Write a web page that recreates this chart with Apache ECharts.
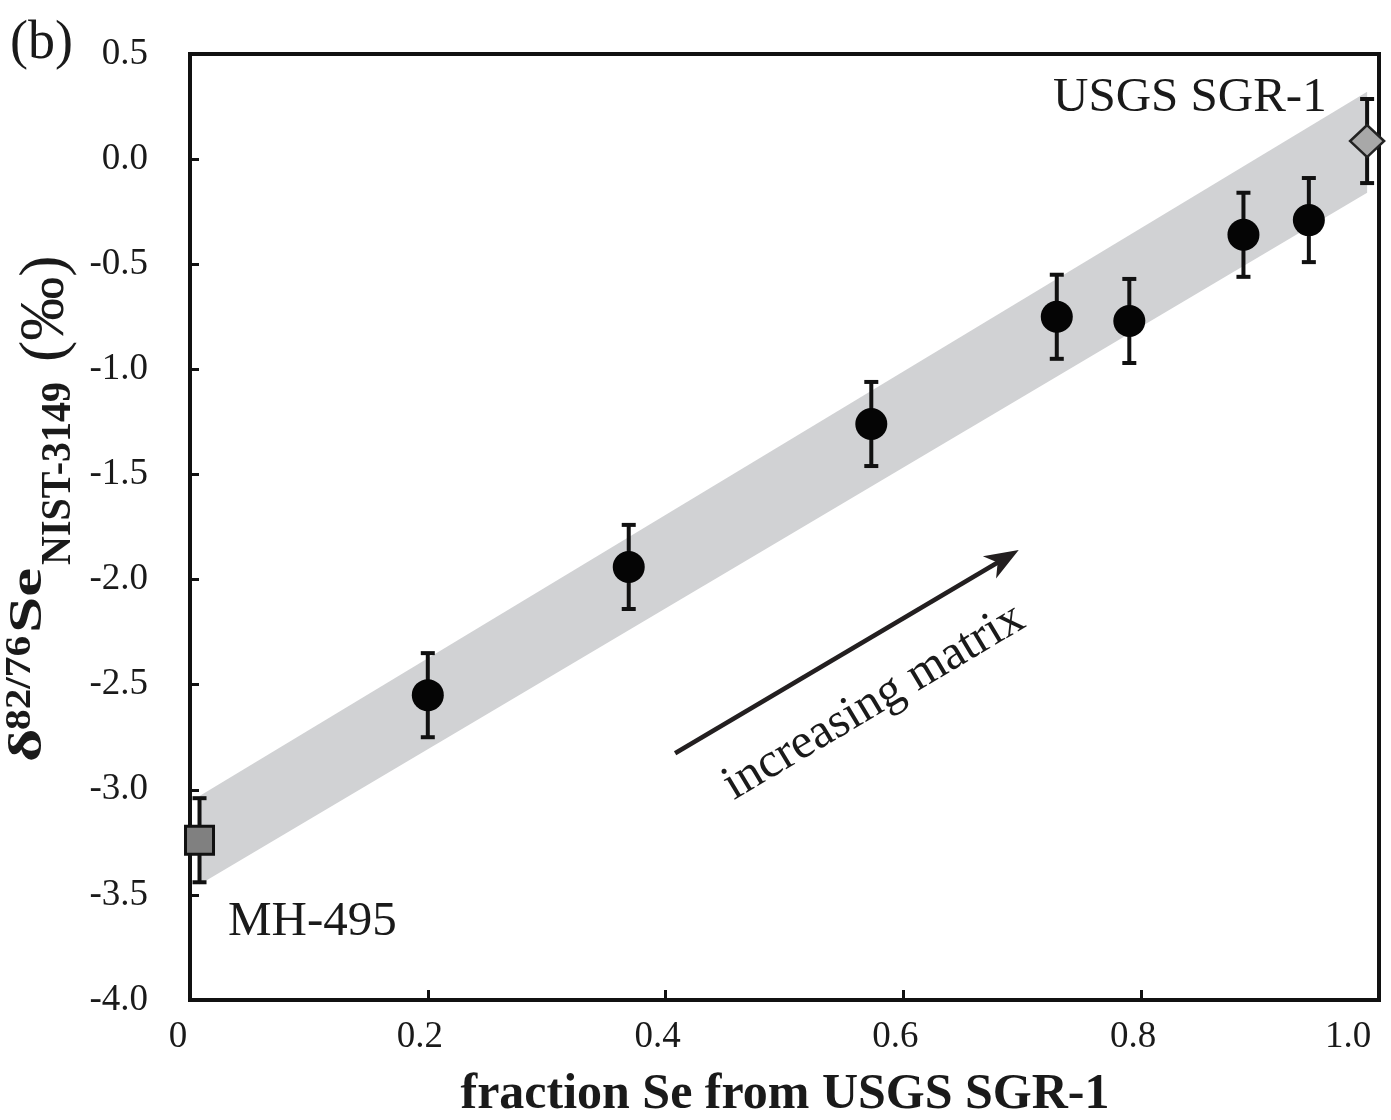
<!DOCTYPE html>
<html>
<head>
<meta charset="utf-8">
<script src="https://cdn.jsdelivr.net/npm/echarts@6/dist/echarts.min.js"></script>
<style>
html,body{margin:0;padding:0;background:#fff;}
#chart{width:1391px;height:1120px;}
</style>
</head>
<body>
<div id="chart"></div>
<script>
// ---- data ----
const sampleX   = [0.200, 0.369, 0.573, 0.729, 0.790, 0.886, 0.941];
const sampleY   = [-2.55, -1.94, -1.26, -0.75, -0.77, -0.36, -0.29];
const sampleErr = [0.20, 0.20, 0.20, 0.20, 0.20, 0.20, 0.20];

const mhX = [0.008];  const mhY = [-3.24]; const mhErr = [0.20];
const sgrX = [0.990]; const sgrY = [0.086]; const sgrErr = [0.20];

const bandX      = [0.008, 0.990];
const bandTop    = [-3.03, 0.32];
const bandBottom = [-3.45, -0.16];

const arrowFrom = [0.408, -2.826];
const arrowTo   = [0.697, -1.860];

const xMin = 0, xMax = 1.0, xStep = 0.2;
const yMin = -4.0, yMax = 0.5, yStep = 0.5;

// ---- chart ----
const SERIF = '"Liberation Serif","Times New Roman",serif';
const INK = '#1a1a1a';
const chart = echarts.init(document.getElementById('chart'), null, {renderer: 'canvas'});

function errData(xs, ys, es) {
  return xs.map((x, i) => [x, ys[i] - es[i], ys[i] + es[i]]);
}
function pts(xs, ys) { return xs.map((x, i) => [x, ys[i]]); }

function renderErr(params, api) {
  const p1 = api.coord([api.value(0), api.value(1)]);
  const p2 = api.coord([api.value(0), api.value(2)]);
  const hw = 7;
  const st = {stroke: '#111', lineWidth: 4};
  return {type: 'group', children: [
    {type: 'line', shape: {x1: p1[0], y1: p1[1], x2: p2[0], y2: p2[1]}, style: st},
    {type: 'line', shape: {x1: p1[0]-hw, y1: p1[1], x2: p1[0]+hw, y2: p1[1]}, style: st},
    {type: 'line', shape: {x1: p2[0]-hw, y1: p2[1], x2: p2[0]+hw, y2: p2[1]}, style: st}
  ]};
}

const bandData = bandX.map((x, i) => [x, bandBottom[i], bandTop[i]]);

function renderBand(params, api) {
  const i = params.dataIndex;
  if (i >= bandX.length - 1) return null;
  const a = api.coord([bandX[i], bandTop[i]]);
  const b = api.coord([bandX[i+1], bandTop[i+1]]);
  const c = api.coord([bandX[i+1], bandBottom[i+1]]);
  const d = api.coord([bandX[i], bandBottom[i]]);
  return {type: 'polygon', shape: {points: [a, b, c, d]}, style: {fill: '#d1d2d4'}};
}

function renderArrow(params, api) {
  const p1 = api.coord([api.value(0), api.value(1)]);
  const p2 = api.coord([api.value(2), api.value(3)]);
  const dx = p2[0]-p1[0], dy = p2[1]-p1[1];
  const len = Math.sqrt(dx*dx+dy*dy);
  const ux = dx/len, uy = dy/len, nx = -uy, ny = ux;
  const L = 34, W = 13, N = 0.72*L;
  const back = [p2[0]-ux*L, p2[1]-uy*L];
  const notch = [p2[0]-ux*N, p2[1]-uy*N];
  return {type: 'group', children: [
    {type: 'line', shape: {x1: p1[0], y1: p1[1], x2: notch[0]+ux*2, y2: notch[1]+uy*2},
     style: {stroke: '#231f20', lineWidth: 4.5}},
    {type: 'polygon', shape: {points: [
      p2, [back[0]+nx*W, back[1]+ny*W], notch, [back[0]-nx*W, back[1]-ny*W]
    ]}, style: {fill: '#231f20'}}
  ]};
}

function xLabel(v) {
  const r = Math.round(v*10)/10;
  if (r === 0) return '{z|0}';
  if (r === 1) return '{e|1.0}';
  return '{n|' + r.toFixed(1) + '}';
}

const labelFont = {fontFamily: SERIF, fontSize: 37, color: INK};

// y-axis title pieces (local x along text, local y across)
const yTitleParts = [
  {t: 'δ',         x: 0,   base: 43, fs: 46, w: 'bold',   sx: 1.4},
  {t: '82/76',     x: 32,  base: 32, fs: 35, w: 'bold',   sx: 1.18},
  {t: 'Se',        x: 129, base: 43, fs: 46, w: 'bold',   sx: 1.42},
  {t: 'NIST-3149', x: 197, base: 72, fs: 43, w: 'bold',   sx: 0.93},
  {t: '(‰)',       x: 400, base: 66, fs: 64, w: 'normal', sx: 1.0}
];

function txt(text, x, baseY, fs, weight, align, extra) {
  return Object.assign({
    type: 'text', x: x, y: baseY - 0.305*fs,
    style: {text: text, fontFamily: SERIF, fontSize: fs, fontWeight: weight,
            fill: INK, align: align, textAlign: align,
            verticalAlign: 'middle', textVerticalAlign: 'middle'}
  }, extra || {});
}

const option = {
  animation: false,
  backgroundColor: '#fff',
  grid: {left: 190, right: 12, top: 54, bottom: 120, show: true,
         borderColor: '#111', borderWidth: 4, containLabel: false, outerBoundsMode: 'none'},
  xAxis: {
    type: 'value', min: xMin, max: xMax, interval: xStep,
    axisLine: {show: true, onZero: false, lineStyle: {color: '#111', width: 4}},
    axisTick: {show: true, inside: true, length: 10, lineStyle: {color: '#111', width: 3}},
    splitLine: {show: false},
    axisLabel: {margin: 19, formatter: xLabel, rich: {
      n: Object.assign({padding: [0, 16, 0, 0]}, labelFont),
      z: Object.assign({padding: [0, 24, 0, 0]}, labelFont),
      e: Object.assign({padding: [0, 62, 0, 0]}, labelFont)
    }}
  },
  yAxis: {
    type: 'value', min: yMin, max: yMax, interval: yStep,
    axisLine: {show: true, onZero: false, lineStyle: {color: '#111', width: 4}},
    axisTick: {show: true, inside: true, length: 9, lineStyle: {color: '#111', width: 3}},
    splitLine: {show: false},
    axisLabel: Object.assign({margin: 42, formatter: v => v.toFixed(1)}, labelFont)
  },
  series: [
    {type: 'custom', name: 'band', renderItem: renderBand, data: bandData, z: 1, silent: true},
    {type: 'custom', name: 'arrow', renderItem: renderArrow,
     data: [[arrowFrom[0], arrowFrom[1], arrowTo[0], arrowTo[1]]], z: 2, silent: true},
    {type: 'custom', name: 'err-samples', renderItem: renderErr, data: errData(sampleX, sampleY, sampleErr), z: 3},
    {type: 'custom', name: 'err-mh', renderItem: renderErr, data: errData(mhX, mhY, mhErr), z: 3},
    {type: 'custom', name: 'err-sgr', renderItem: renderErr, data: errData(sgrX, sgrY, sgrErr), z: 3},
    {type: 'scatter', name: 'mixtures', data: pts(sampleX, sampleY), symbol: 'circle', symbolSize: 32,
     itemStyle: {color: '#050505', opacity: 1}, z: 4},
    {type: 'scatter', name: 'MH-495', data: pts(mhX, mhY), symbol: 'rect', symbolSize: 28,
     itemStyle: {color: '#808080', borderColor: '#111', borderWidth: 3, opacity: 1}, z: 4},
    {type: 'scatter', name: 'USGS SGR-1', data: pts(sgrX, sgrY), symbol: 'diamond', symbolSize: [34, 32],
     itemStyle: {color: '#a8a8a8', borderColor: '#222', borderWidth: 2.5, opacity: 1}, z: 4}
  ],
  graphic: [
    txt('(b)', 10, 60, 54, 'normal', 'left'),
    txt('USGS SGR-1', 1053, 113, 49, 'normal', 'left'),
    txt('MH-495', 228, 937, 49, 'normal', 'left'),
    {type: 'text', x: 874, y: 702, rotation: 0.536,
     style: {text: 'increasing matrix', fontFamily: SERIF, fontSize: 49, fill: INK,
             align: 'center', textAlign: 'center', verticalAlign: 'middle', textVerticalAlign: 'middle'}},
    txt('fraction Se from USGS SGR-1', 785, 1110, 50, 'bold', 'center'),
    {type: 'group', x: 0, y: 762, rotation: Math.PI/2,
     children: yTitleParts.map(p => ({
       type: 'text', x: p.x, y: p.base - 0.305*p.fs, scaleX: p.sx, scaleY: 1,
       style: {text: p.t, fontFamily: SERIF, fontSize: p.fs, fontWeight: p.w, fill: INK,
               align: 'left', textAlign: 'left', verticalAlign: 'middle', textVerticalAlign: 'middle'}
     }))}
  ]
};
chart.setOption(option);
</script>
</body>
</html>
